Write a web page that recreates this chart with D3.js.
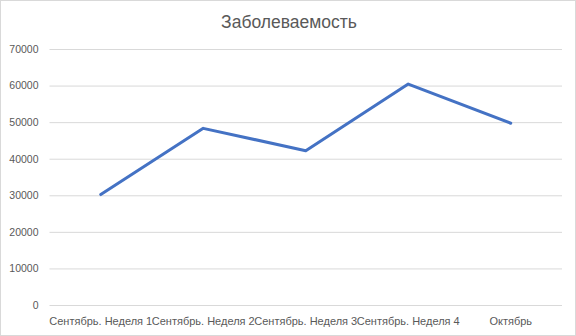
<!DOCTYPE html>
<html>
<head>
<meta charset="utf-8">
<script src="https://cdn.jsdelivr.net/npm/d3@7"></script>
<style>
  html, body { margin: 0; padding: 0; background: #fff; }
  svg text { font-family: "Liberation Sans", Arial, sans-serif; fill: #595959; }
</style>
</head>
<body>
<div class="box"></div>
<script>
const title = "Заболеваемость";
const categories = ["Сентябрь. Неделя 1", "Сентябрь. Неделя 2", "Сентябрь. Неделя 3", "Сентябрь. Неделя 4", "Октябрь"];
const cases = [30200, 48300, 42200, 60400, 49700];
const yTicks = [0, 10000, 20000, 30000, 40000, 50000, 60000, 70000];

const W = 576, H = 336;
const margin = { top: 49, right: 14, bottom: 31, left: 49.5 };
const width = W - margin.left - margin.right, height = H - margin.top - margin.bottom;

const svg = d3.select(".box").append("svg")
  .attr("width", W)
  .attr("height", H);

// chart frame
svg.append("rect")
  .attr("x", 0.5).attr("y", 0.5)
  .attr("width", W - 1).attr("height", H - 1)
  .attr("fill", "#fff").attr("stroke", "#d9d9d9");

svg.append("text")
  .attr("x", 289).attr("y", 28)
  .attr("text-anchor", "middle")
  .style("font-size", "17.5px")
  .text(title);

const g = svg.append("g").attr("transform", `translate(${margin.left},${margin.top})`);

const x = d3.scaleBand().domain(categories).range([0, width]);
const y = d3.scaleLinear().domain([0, 70000]).range([height, 0]);

// y axis with gridlines
const yAxis = g.append("g")
  .call(d3.axisLeft(y).tickValues(yTicks).tickSize(-width).tickPadding(11).tickFormat(d3.format("d")));
yAxis.select(".domain").remove();
yAxis.selectAll(".tick line").attr("stroke", "#d9d9d9");
yAxis.selectAll(".tick text").style("font-size", "10.5px").attr("fill", "#595959");

// x axis
const xAxis = g.append("g").attr("transform", `translate(0,${height})`)
  .call(d3.axisBottom(x).tickSize(0).tickPadding(12));
xAxis.select(".domain").remove();
xAxis.selectAll(".tick text").style("font-size", "11px").attr("fill", "#595959");

const line = d3.line()
  .x((d, i) => x(categories[i]) + x.bandwidth() / 2)
  .y(d => y(d));

g.append("path")
  .datum(cases)
  .attr("fill", "none")
  .attr("stroke", "#4472c4")
  .attr("stroke-width", 3)
  .attr("stroke-linejoin", "round")
  .attr("stroke-linecap", "round")
  .attr("d", line);
</script>
</body>
</html>
